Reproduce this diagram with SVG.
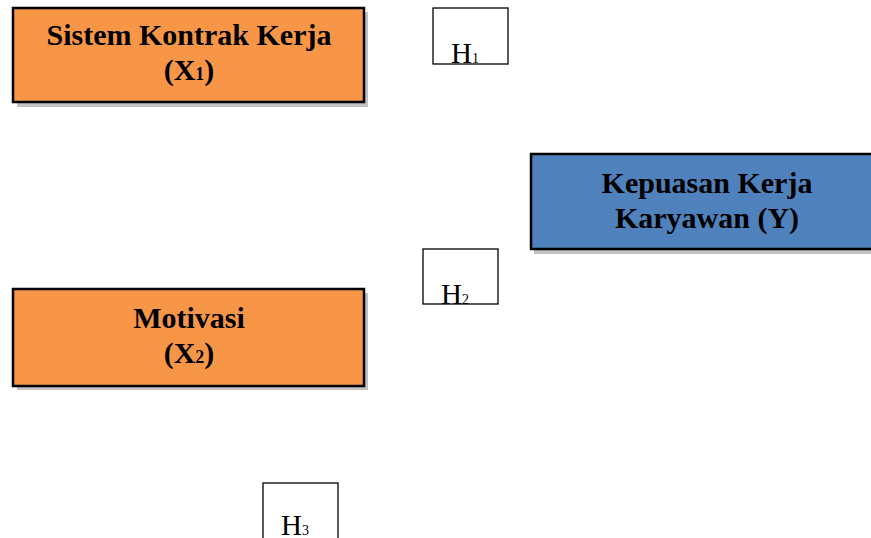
<svg xmlns="http://www.w3.org/2000/svg" width="871" height="538" viewBox="0 0 871 538">
<style>
.shadow{fill:#a8a8a8;opacity:0.7}
.var{stroke:#000;stroke-width:2.5}
.orange{fill:#F79646}
.blue{fill:#4F81BD}
.t{font-family:"Liberation Serif","Times New Roman",serif;font-weight:bold;font-size:30px;fill:#000;text-anchor:middle}
.sub{font-size:18px}
.hbox{fill:#fff;stroke:#000;stroke-width:1.3}
.h{font-family:"Liberation Serif","Times New Roman",serif;font-size:29px;fill:#000}
.hs{font-size:14px}
</style>
<rect width="871" height="538" fill="#fff"/>
<g id="connectors"></g>
<g id="x1">
<rect class="shadow" x="17" y="12" width="351" height="95"/>
<rect class="var orange" x="13" y="8" width="351" height="94"/>
<text class="t" x="189" y="45">Sistem Kontrak Kerja</text>
<text class="t" x="189" y="80">(X<tspan class="sub">1</tspan>)</text>
</g>
<g id="x2">
<rect class="shadow" x="17" y="293" width="351" height="97"/>
<rect class="var orange" x="13" y="289" width="351" height="97"/>
<text class="t" x="189" y="328">Motivasi</text>
<text class="t" x="189" y="363">(X<tspan class="sub">2</tspan>)</text>
</g>
<g id="y">
<rect class="shadow" x="534" y="157" width="350" height="97"/>
<rect class="var blue" x="531" y="154" width="350" height="95"/>
<text class="t" x="707" y="193">Kepuasan Kerja</text>
<text class="t" x="707" y="228">Karyawan (Y)</text>
</g>
<g id="h1">
<rect class="hbox" x="433" y="8" width="75" height="56"/>
<text class="h" x="451" y="63">H<tspan class="hs">1</tspan></text>
</g>
<g id="h2">
<rect class="hbox" x="423" y="249" width="75" height="55"/>
<text class="h" x="441" y="304">H<tspan class="hs">2</tspan></text>
</g>
<g id="h3">
<rect class="hbox" x="263" y="483" width="75" height="60"/>
<text class="h" x="281" y="535">H<tspan class="hs">3</tspan></text>
</g>
</svg>
